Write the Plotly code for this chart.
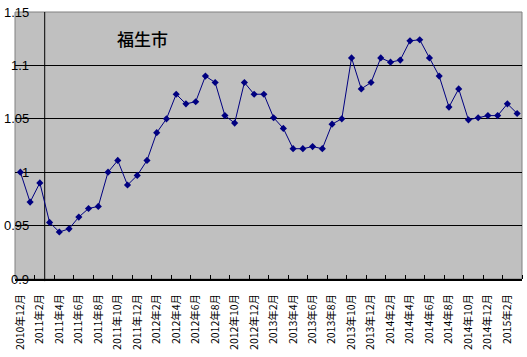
import plotly.graph_objects as go

months = []
for y in range(2010, 2016):
    for m in range(1, 13):
        if (y == 2010 and m < 12) or (y == 2015 and m > 3):
            continue
        months.append(f"{y}年{m}月")

values = [1.000, 0.972, 0.990, 0.953, 0.944, 0.947, 0.958, 0.966, 0.968, 1.000,
          1.011, 0.988, 0.997, 1.011, 1.037, 1.050, 1.073, 1.064, 1.066, 1.090,
          1.084, 1.053, 1.046, 1.084, 1.073, 1.073, 1.051, 1.041, 1.022, 1.022,
          1.024, 1.022, 1.045, 1.050, 1.107, 1.078, 1.084, 1.107, 1.103, 1.105,
          1.123, 1.124, 1.107, 1.090, 1.061, 1.078, 1.049, 1.051, 1.053, 1.053,
          1.064, 1.055]

title_text = "福生市"
y_ticks = [0.9, 0.95, 1.0, 1.05, 1.1, 1.15]
y_tick_labels = ["0.9", "0.95", "1", "1.05", "1.1", "1.15"]

idx = list(range(len(months)))
label_idx = idx[::2]
label_text = months[::2]
boundary_ticks = [i + 1.5 for i in range(0, len(months), 2)]

W, H = 527, 357
ml, mr, mt, mb = 15, 5, 12, 78
plot_w = W - ml - mr

fig = go.Figure()
fig.add_trace(go.Scatter(
    x=idx, y=values, mode="lines+markers",
    line=dict(color="#000080", width=1),
    marker=dict(symbol="diamond", size=5.5, color="#000080"),
    hoverinfo="skip", showlegend=False,
))

shapes = [
    dict(type="rect", xref="paper", yref="paper", x0=0, x1=1, y0=0, y1=1,
         line=dict(color="#808080", width=1), layer="below"),
    dict(type="line", xref="x", yref="paper", x0=2.5, x1=2.5, y0=-0.008, y1=1,
         line=dict(color="black", width=1), layer="below"),
]

annotations = [
    dict(xref="paper", yref="y", x=(31 - ml) / plot_w, y=v, text=t,
         xanchor="right", yanchor="middle", showarrow=False,
         font=dict(family="Liberation Sans", size=13, color="black"))
    for v, t in zip(y_ticks, y_tick_labels)
]
annotations.append(dict(
    xref="paper", yref="paper", x=(142.5 - ml) / plot_w, y=1 - (38.5 - mt) / (H - mt - mb),
    text=title_text, xanchor="center", yanchor="middle", showarrow=False,
    font=dict(family="Noto Sans CJK JP", size=17, color="black", weight=500),
))

fig.update_layout(
    width=W, height=H, autosize=False,
    margin=dict(l=ml, r=mr, t=mt, b=mb),
    paper_bgcolor="white", plot_bgcolor="#C0C0C0",
    shapes=shapes, annotations=annotations,
    xaxis=dict(
        range=[-0.55, len(months) - 0.5],
        tickmode="array", tickvals=label_idx, ticktext=label_text,
        tickangle=-90, ticks="", ticklabelstandoff=9,
        tickfont=dict(family="Noto Sans CJK JP", size=10.5, color="black"),
        showgrid=False, zeroline=False,
        showline=True, linecolor="black", linewidth=1.5,
        minor=dict(tickmode="array", tickvals=boundary_ticks, ticks="inside",
                   ticklen=4, tickcolor="black", tickwidth=1, showgrid=False),
    ),
    yaxis=dict(
        range=[0.9, 1.15],
        tickmode="array", tickvals=y_ticks[1:-1],
        showticklabels=False, ticks="",
        showgrid=True, gridcolor="black", gridwidth=1,
        zeroline=False, showline=False,
    ),
)

fig.write_html("out.html",
               config={"displayModeBar": False},
               post_script="document.body.style.margin='0';document.body.style.overflow='hidden';")
